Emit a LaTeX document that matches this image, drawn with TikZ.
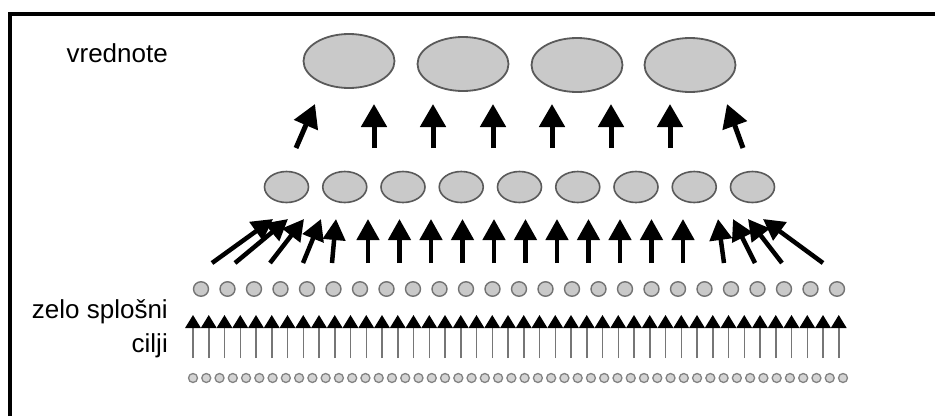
\documentclass[tikz,border=0pt]{standalone}
\usepackage{fontspec}
\setmainfont{Liberation Sans}
\usetikzlibrary{arrows.meta,shapes.geometric}
\definecolor{ellfill}{HTML}{C9C9C9}
\definecolor{ellborder}{HTML}{5A5A5A}
\definecolor{shaftgray}{HTML}{767676}
\begin{document}
\begin{tikzpicture}[x=1pt,y=-1pt,
  lbl/.style={inner sep=0pt, font=\fontsize{26}{34}\selectfont},
  topell/.style={ellipse, draw=ellborder, fill=ellfill, line width=1.8pt, inner sep=0pt, minimum width=91pt, minimum height=54pt},
  midell/.style={ellipse, draw=ellborder, fill=ellfill, line width=1.6pt, inner sep=0pt, minimum width=44pt, minimum height=31pt},
  dotell/.style={ellipse, draw=ellborder!85, fill=ellfill, line width=1.4pt, inner sep=0pt, minimum width=15pt, minimum height=14.5pt},
  tinydot/.style={circle, draw=ellborder!75, fill=ellfill!80, line width=1.3pt, inner sep=0pt, minimum size=9pt},
  bigarrow/.style={line width=5pt, -{Triangle[width=25pt,length=23pt]}},
  midarrow/.style={line width=4.5pt, -{Triangle[width=22pt,length=21pt]}},
  thinarrow/.style={draw=shaftgray, line width=1.5pt, -{Triangle[width=15.5pt,length=13pt,color=black]}}
]
\useasboundingbox (0,0) rectangle (935,416);
\fill[white] (0,0) rectangle (935,416);
% frame
\draw[line width=4pt] (10,416) -- (10,14) -- (935,14);
% labels
\node[lbl, anchor=base east] (lv) at (168,62) {vrednote};
\node[lbl, anchor=base east] (lz) at (168,318) {zelo splošni};
\node[lbl, anchor=base east] (lc) at (168,352) {cilji};
% top ellipses
\foreach \x/\y [count=\i] in {349/61,463/64,577/65,690/65}
  \node[topell] (v\i) at (\x,\y) {};
% top arrows
\foreach \a/\b [count=\i] in {296/315,374/374,433/433,493/493,552/552,611/611,670/670,743/727}{
  \coordinate (ua\i) at (\a,148);
  \coordinate (ub\i) at (\b,104);
  \draw[bigarrow] (ua\i) -- (ub\i);
}
% middle ellipses
\foreach \i in {0,...,8}
  \node[midell] (m\i) at ({286.5+58.25*\i},187) {};
% middle arrows
\foreach \a/\b [count=\i] in {212/273,235/288,270/304,303/321,332/336,368/368,399.5/399.5,431/431,462.5/462.5,494/494,525.5/525.5,557/557,588.5/588.5,620/620,651.5/651.5,683/683,724/718,755/733,782/748,823/763}{
  \coordinate (ma\i) at (\a,263);
  \coordinate (mb\i) at (\b,219);
  \draw[midarrow] (ma\i) -- (mb\i);
}
% small circles
\foreach \i in {0,...,24}
  \node[dotell] (d\i) at ({201+26.5*\i},289) {};
% thin arrows
\foreach \i in {0,...,41}{
  \coordinate (ta\i) at ({193+15.75*\i},358);
  \coordinate (tb\i) at ({193+15.75*\i},315);
  \draw[thinarrow] (ta\i) -- (tb\i);
}
% tiny circles
\foreach \i in {0,...,49}
  \node[tinydot] (t\i) at ({193+13.265*\i},378) {};
\end{tikzpicture}
\end{document}
